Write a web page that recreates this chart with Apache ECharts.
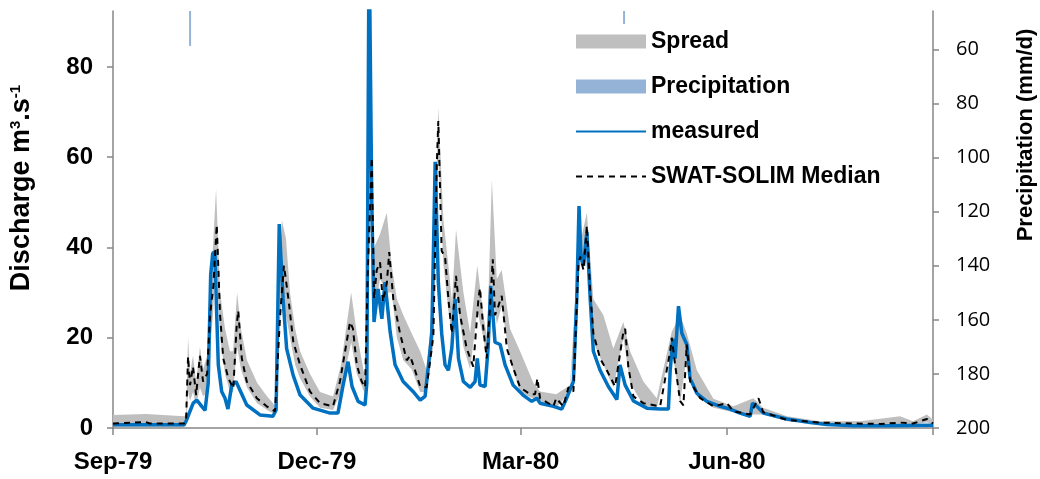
<!DOCTYPE html>
<html>
<head>
<meta charset="utf-8">
<script src="https://cdn.jsdelivr.net/npm/echarts@6/dist/echarts.min.js"></script>
<style>
  html, body { margin: 0; padding: 0; background: #fff; }
  #chart { width: 1040px; height: 479px; }
</style>
</head>
<body>
<div id="chart"></div>
<script>
// x = days since 1 Sep 1979
const tickDays = [0, 91, 182, 274, 366];
const tickLabels = ['Sep-79', 'Dec-79', 'Mar-80', 'Jun-80', ''];
const dischargeTicks = [0, 20, 40, 60, 80];
const precipTicks = [60, 80, 100, 120, 140, 160, 180, 200];

const measuredDays = [0, 14.7, 31.7, 32.6, 35.8, 37.4, 39.6, 41.1, 42.5, 43.6, 44.5, 45.5, 46.3, 47, 48.5, 50, 51.3, 53, 54.9, 59.7, 65.6, 71.4, 72.8, 74.2, 75.9, 77.5, 80.4, 83.5, 89.3, 96.9, 100.4, 102.7, 104.9, 106.7, 109.4, 112.5, 113.3, 114.3, 115.5, 116.5, 118.3, 120, 121.4, 123.7, 125.9, 129.5, 133.9, 137.1, 139.3, 142.3, 143.8, 145.2, 146.7, 148.2, 149.7, 151.2, 152.7, 154.2, 156.4, 159.4, 161.6, 162.6, 163.8, 166.1, 167.4, 168.6, 170.5, 172.8, 175, 178.6, 183, 186.9, 189.2, 190.6, 196.6, 200.3, 202.5, 205.5, 207, 208, 208.9, 210, 211.5, 213, 214.4, 217.4, 221.1, 224.9, 226.3, 227.1, 228.6, 232.3, 238.3, 244.2, 247.9, 248.7, 249.9, 250.9, 252.4, 253.9, 256.1, 257.6, 260.6, 265, 271, 275.4, 279.9, 284.4, 285.4, 287.4, 290.3, 300.8, 311.2, 318.6, 330.5, 345.4, 366];
const measuredValues = [0.7, 0.7, 0.7, 1.5, 5.5, 6.2, 4.8, 3.9, 10, 34, 38.7, 39, 25, 14, 8.1, 6.6, 4.2, 9.5, 10.3, 5.1, 2.9, 2.6, 4, 45.2, 28.6, 17.6, 11.7, 7.3, 4.4, 3.3, 3.3, 9.5, 14.7, 9.2, 5.9, 5.1, 10, 110, 50, 23.5, 30.8, 24.2, 32.3, 21.3, 14, 10.3, 8.1, 6.2, 7, 21, 59, 32.3, 21, 14, 12.8, 17.6, 28.6, 15.4, 10.3, 9, 10.3, 15.4, 9.5, 9.2, 17.6, 31.5, 19, 18.5, 14, 9.5, 7.3, 5.9, 6.6, 5.5, 4.8, 4.2, 6.6, 10.3, 28.6, 49.2, 38, 36, 43.4, 28.6, 17, 12.8, 9.2, 6.3, 14, 14.3, 9.5, 6, 4.4, 4.2, 4.2, 12.8, 19.8, 15.4, 27, 21, 18.5, 11, 7.7, 5.9, 4.8, 4.2, 3.3, 2.6, 5.5, 4.8, 3.3, 2, 1.2, 0.8, 0.5, 0.5, 0.6];

const medianDays = [0, 14.7, 16.5, 31.7, 32.6, 33.5, 34.4, 35.7, 37.1, 38.8, 40.2, 42, 43.3, 44.8, 46.3, 47.8, 49.2, 51.5, 53.7, 55.2, 55.9, 57.5, 59.7, 64.2, 68.6, 72.3, 74.6, 76.3, 78.3, 80.5, 83.5, 87.9, 92.4, 98.2, 101.3, 105.8, 107.1, 108.8, 111, 112.5, 113.8, 115.5, 116.5, 117.7, 119.2, 120.4, 122.2, 123.3, 125.1, 128.1, 131.1, 132.6, 134.8, 137.1, 140, 143, 144.5, 145.2, 146.7, 148.2, 149.7, 151.2, 153.1, 154.9, 157.9, 160.8, 163.1, 163.8, 165.3, 166.8, 168.3, 169.5, 170.5, 172, 173.5, 175.8, 178.7, 181.7, 186.2, 188.4, 189.4, 190.6, 196.6, 197.8, 201, 203.3, 205.5, 207.7, 208.5, 210, 211.5, 212.9, 214.4, 217.4, 220.4, 224.1, 227.8, 228.6, 230, 232.3, 236.7, 244.2, 248.7, 249.4, 250.9, 253.1, 254.6, 256.1, 257.6, 262.1, 268, 274, 276.9, 284.4, 288.1, 290.2, 300.8, 315.6, 330.4, 342.4, 351.3, 357.1, 363.3, 366];
const medianValues = [1, 1.3, 1, 1, 1.5, 15.8, 9.5, 13.6, 7.3, 16, 10.3, 12, 25, 31.5, 45, 25, 15.4, 11, 8.8, 22.7, 26, 15.4, 10.3, 6.6, 4.8, 3.7, 25, 36, 28.6, 19, 14, 8.1, 5.5, 4.8, 10.3, 23.5, 22, 14, 10.3, 9, 36, 59.9, 28.6, 35, 36.7, 28, 32, 39, 28.6, 21, 15, 16, 12.8, 9.2, 9, 20.5, 58, 68, 39.2, 38, 28.6, 21, 33.7, 25, 17.6, 13.6, 28.6, 31, 22, 15.4, 27, 37.4, 25, 27, 29.3, 17.6, 13.2, 9, 7.5, 7.5, 11, 6.6, 4.8, 6.6, 4.8, 9, 8.1, 36, 38, 35, 44.8, 31, 21, 15.4, 12.8, 9.2, 21.3, 22, 13.6, 7, 5.5, 4.8, 17, 20, 14, 6, 5, 18.5, 10.3, 6.6, 4.8, 5.5, 3.7, 3, 6.6, 3.5, 1.8, 1.2, 1, 0.9, 1.2, 1, 2, 1];

const spreadDays = [0, 14.7, 31.7, 32.6, 33.5, 34.4, 35.7, 37.1, 38.8, 40.2, 42, 43.3, 44.6, 46, 47.8, 50, 52.2, 53.6, 55.4, 57.1, 59.8, 64.3, 68.8, 72.3, 73.7, 75.4, 77.2, 79, 81.3, 83.5, 87.9, 92.4, 98.2, 101.8, 106.3, 108.8, 112.5, 113.8, 115.5, 116.5, 119.2, 122.2, 124.4, 126.7, 129.6, 133.3, 137.1, 140, 142.9, 145.2, 147.5, 149.7, 151.3, 153.1, 156.4, 159.4, 162.6, 165.3, 167, 169.1, 171.3, 173.5, 177.2, 181.7, 187.6, 190.6, 197.8, 204, 207.6, 211.5, 214.4, 218.9, 223.3, 227.8, 230.8, 236.7, 242.7, 249.4, 253.1, 256.1, 260.6, 268, 276.9, 285.8, 290.2, 300.8, 315.6, 333.5, 351.3, 357.1, 363.3, 366];
const spreadLow = [0.3, 0.3, 0.2, 0.5, 8, 6, 8, 5, 9, 7, 8, 18, 25, 38, 20, 12, 8, 8, 18, 13, 9, 5.5, 4, 3, 15, 30, 25, 20, 14, 11, 7, 4.5, 4, 8, 19, 12, 7.5, 30, 55, 25, 33, 30, 30, 20, 15, 13, 8, 8, 18, 60, 36, 26, 20, 30, 18, 13, 26, 20, 14, 33, 23, 27, 15, 8, 6.5, 6, 4.5, 8, 34, 42, 19, 14, 9, 20, 10, 5, 4.5, 18, 5.5, 16, 7, 4.5, 3.5, 3, 3, 1.5, 1, 0.8, 0.9, 0.8, 1.2, 0.8];
const spreadHigh = [2.9, 3.1, 2.6, 3, 20, 12, 16, 10, 18, 13, 16, 30, 40, 53, 30, 22, 17, 17, 30, 22, 15, 10, 7, 5, 30, 46, 42, 30, 22, 17, 12, 8, 7, 14, 30, 21, 11, 45, 62, 40, 43, 47.7, 36, 28.6, 25, 21, 17, 12.8, 30, 71, 46, 36, 28, 44, 30, 21, 36, 25, 20, 55, 33, 35, 22, 17, 10, 8.1, 7.5, 9.5, 39, 47.7, 28.6, 25, 17.6, 23.5, 17, 10.3, 6.6, 21.3, 25, 21, 12.8, 6.5, 4.8, 6.6, 4.5, 2.6, 1.5, 1.5, 2.6, 1.5, 3, 1.8];

const precipDays = [34.4, 228.1];
const precipValues = [58.7, 50.6];

const pairs = (xs, ys) => xs.map((x, i) => [x, ys[i]]);

const chart = echarts.init(document.getElementById('chart'));

const axisGray = '#868686';

// gray band between spreadLow and spreadHigh, drawn once as one polygon
const renderSpread = (params, api) => {
  if (params.dataIndex !== 0) return;
  const top = spreadDays.map((d, i) => api.coord([d, spreadHigh[i]]));
  const bottom = spreadDays.map((d, i) => api.coord([d, spreadLow[i]])).reverse();
  return {
    type: 'polygon',
    shape: { points: top.concat(bottom) },
    style: { fill: '#BFBFBF' },
    silent: true
  };
};

const option = {
  animation: false,
  grid: { left: 113, right: 107, top: 11, bottom: 51 },
  legend: {
    orient: 'vertical',
    left: 575,
    top: 30,
    padding: 0,
    itemWidth: 70,
    itemHeight: 14,
    itemGap: 22,
    textStyle: { fontSize: 23, fontWeight: 'bold', color: '#000', fontFamily: 'Liberation Sans' },
    data: [
      { name: 'Spread', icon: 'rect', itemStyle: { color: '#BFBFBF' } },
      { name: 'Precipitation', icon: 'rect', itemStyle: { color: '#95B3D7' } },
      { name: 'measured', itemStyle: { opacity: 0 } },
      { name: 'SWAT-SOLIM Median', itemStyle: { opacity: 0 } }
    ]
  },
  xAxis: {
    type: 'value',
    min: 0,
    max: 366,
    axisLine: { show: true, lineStyle: { color: axisGray, width: 1.5 } },
    axisTick: { show: true, length: 7, customValues: tickDays, lineStyle: { color: axisGray, width: 1.5 } },
    axisLabel: {
      customValues: tickDays.slice(0, 4),
      formatter: (v) => tickLabels[tickDays.indexOf(v)],
      fontSize: 24,
      fontWeight: 'bold',
      color: '#000',
      fontFamily: 'Liberation Sans',
      margin: 22
    },
    splitLine: { show: false }
  },
  yAxis: [
    {
      type: 'value',
      min: 0,
      max: 92.4,
      position: 'left',
      axisLine: { show: true, lineStyle: { color: axisGray, width: 1.5 } },
      axisTick: { show: true, length: 6, customValues: dischargeTicks, lineStyle: { color: axisGray, width: 1.5 } },
      axisLabel: {
        customValues: dischargeTicks,
        fontSize: 24,
        fontWeight: 'bold',
        color: '#000',
        fontFamily: 'Liberation Sans',
        margin: 20
      },
      splitLine: { show: false }
    },
    {
      type: 'value',
      inverse: true,
      min: 45.8,
      max: 200,
      position: 'right',
      axisLine: { show: true, lineStyle: { color: axisGray, width: 1.5 } },
      axisTick: { show: true, length: 6, customValues: precipTicks, lineStyle: { color: axisGray, width: 1.5 } },
      axisLabel: {
        customValues: precipTicks,
        fontSize: 20,
        color: '#000',
        fontFamily: 'Open Sans',
        margin: 23
      },
      splitLine: { show: false }
    }
  ],
  graphic: [
    {
      type: 'text',
      x: 22,
      y: 188,
      rotation: Math.PI / 2,
      style: {
        text: 'Discharge m{sup|3}.s{sup|-1}',
        font: 'bold 27px "Liberation Sans"',
        fill: '#000',
        align: 'center',
        verticalAlign: 'middle',
        textAlign: 'center',
        textVerticalAlign: 'middle',
        rich: {
          sup: { font: 'bold 15px "Liberation Sans"', fill: '#000', verticalAlign: 'top' }
        }
      }
    },
    {
      type: 'text',
      x: 1026,
      y: 135,
      rotation: Math.PI / 2,
      style: {
        text: 'Precipitation (mm/d)',
        font: 'bold 22px "Liberation Sans"',
        fill: '#000',
        align: 'center',
        verticalAlign: 'middle',
        textAlign: 'center',
        textVerticalAlign: 'middle'
      }
    }
  ],
  series: [
    {
      name: 'Spread',
      type: 'custom',
      renderItem: renderSpread,
      itemStyle: { color: '#BFBFBF' },
      data: spreadDays.map((d, i) => [d, spreadLow[i], spreadHigh[i]]),
      encode: { x: 0, y: [1, 2] }
    },
    {
      name: 'Precipitation',
      type: 'bar',
      yAxisIndex: 1,
      barWidth: 2,
      itemStyle: { color: '#95B3D7' },
      data: pairs(precipDays, precipValues)
    },
    {
      name: 'measured',
      type: 'line',
      symbol: 'none',
      itemStyle: { color: '#0070C0' },
      lineStyle: { color: '#0070C0', width: 3.5 },
      data: pairs(measuredDays, measuredValues)
    },
    {
      name: 'SWAT-SOLIM Median',
      type: 'line',
      symbol: 'none',
      itemStyle: { color: '#000' },
      lineStyle: { color: '#000', width: 2, type: [6, 5] },
      data: pairs(medianDays, medianValues)
    }
  ]
};

chart.setOption(option);
</script>
</body>
</html>
